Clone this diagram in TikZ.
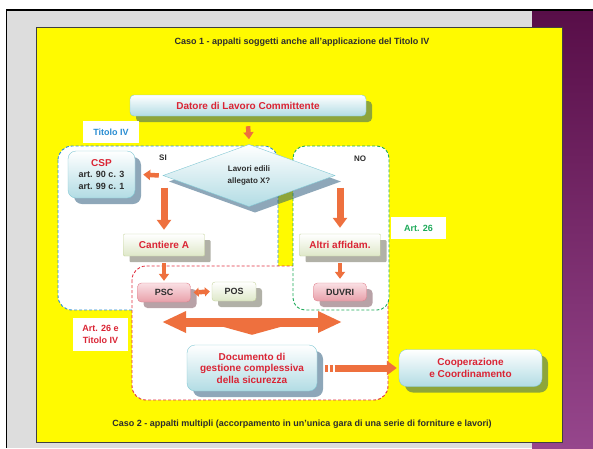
\documentclass[tikz,border=0pt]{standalone}
\usepackage{fontspec}
\setmainfont{Liberation Sans}
\usepackage{xcolor}
\usepackage{tikz}
\usetikzlibrary{shapes.geometric}
\usetikzlibrary{shadows}
\usetikzlibrary{arrows.meta}
\definecolor{boxred}{RGB}{218,36,52}
\definecolor{boxtext}{RGB}{45,45,45}
\definecolor{titleblue}{RGB}{40,140,210}
\definecolor{artgreen}{RGB}{30,170,90}
\definecolor{arrowc}{RGB}{238,112,62}
\definecolor{cyanlo}{RGB}{178,220,228}
\definecolor{cyanrule}{RGB}{130,200,212}
\definecolor{greenlo}{RGB}{222,232,200}
\definecolor{greenrule}{RGB}{198,212,158}
\definecolor{pinktop}{RGB}{250,224,228}
\definecolor{pinklo}{RGB}{232,160,170}
\definecolor{pinkrule}{RGB}{224,130,142}
\definecolor{shadeblue}{RGB}{31,81,116}
\definecolor{shadegrey}{RGB}{100,100,80}
\definecolor{shadepink}{RGB}{115,70,80}
\definecolor{slidegrey}{RGB}{221,221,221}
\definecolor{plumtop}{RGB}{88,14,72}
\definecolor{plumlo}{RGB}{150,70,140}
\definecolor{panel}{RGB}{255,250,0}
\definecolor{dashblue}{RGB}{40,140,210}
\definecolor{dashgreen}{RGB}{30,170,90}
\definecolor{dashred}{RGB}{224,48,64}
\tikzset{
cyanbox/.style={
  rectangle, rounded corners=4pt,
  draw=cyanrule, top color=white, bottom color=cyanlo,
  text=boxred, align=center, inner sep=0pt,
  font=\bfseries\fontsize{10}{11.5}\selectfont,
  drop shadow={shadow xshift=6pt,shadow yshift=-6pt,fill=shadeblue,opacity=.5}
},
greenbox/.style={
  rectangle, rounded corners=1pt,
  draw=greenrule, top color=white, bottom color=greenlo,
  text=boxred, align=center, inner sep=0pt,
  font=\bfseries\fontsize{10}{11.5}\selectfont,
  drop shadow={shadow xshift=6pt,shadow yshift=-6pt,fill=shadegrey,opacity=.5}
},
pinkbox/.style={
  rectangle, rounded corners=4pt,
  draw=pinkrule, top color=pinktop, bottom color=pinklo,
  text=boxtext, align=center, inner sep=0pt,
  font=\bfseries\fontsize{9}{11}\selectfont,
  drop shadow={shadow xshift=6pt,shadow yshift=-6pt,fill=shadepink,opacity=.5}
},
choice/.style={
  diamond, draw=cyanrule, top color=white, bottom color=cyanlo,
  text=boxtext, align=center, inner sep=0pt,
  font=\bfseries\fontsize{8}{12}\selectfont,
  drop shadow={shadow xshift=6pt,shadow yshift=-6pt,fill=shadeblue,opacity=.5}
},
tagbox/.style={
  rectangle, fill=white, inner sep=0pt, align=center,
  font=\bfseries\fontsize{9}{11.5}\selectfont
},
plaintext/.style={text=boxtext, inner sep=0pt, font=\bfseries\fontsize{8}{10}\selectfont},
region/.style={line width=0.9pt, dash pattern=on 3pt off 2pt, fill=white, rounded corners=14pt},
smallarrow/.style={draw=arrowc, line width=4.5pt, -{Triangle[width=10pt,length=7pt]}},
blockarrow/.style={draw=arrowc, line width=7pt, -{Triangle[width=14pt,length=10pt]}},
bigarrow/.style={draw=arrowc, line width=9pt, {Triangle[width=20pt,length=24pt]}-{Triangle[width=20pt,length=24pt]}}
}

\begin{document}
\begin{tikzpicture}[x=1pt,y=-1pt]
\useasboundingbox (0,0) rectangle (593,448);
% the slide
\fill[white] (0,0) rectangle (593,448);
\fill[slidegrey] (7,11) rectangle (532,448);
\shade[top color=plumtop, bottom color=plumlo] (532,11) rectangle (593,448);
\draw[line width=2pt] (6,10) -- (593,10);
\draw[line width=1.2pt] (6.6,10) -- (6.6,448);
\draw[fill=panel, draw=black!75, line width=0.8pt] (36,27) rectangle (562,442);

\node[plaintext, font=\bfseries\fontsize{9}{10}\selectfont] (caso1) at (302,42)
  {Caso 1 - appalti soggetti anche all'applicazione del Titolo IV};
\node[plaintext, font=\bfseries\fontsize{9}{10}\selectfont] (caso2) at (302,424)
  {Caso 2 - appalti multipli (accorpamento in un'unica gara di una serie di forniture e lavori)};

% the regions
\draw[region, draw=dashblue] (58,146) rectangle (278,310);
\draw[region, draw=dashred] (132,266) rectangle (388,400);
\draw[region, draw=dashgreen, rounded corners=12pt] (293,146) rectangle (389,310);

% the boxes
\node[cyanbox, minimum width=236pt, minimum height=21pt] (datore) at (248,105.5)
  {Datore di Lavoro Committente};
\node[tagbox, text=titleblue, minimum width=56pt, minimum height=22pt] (tit4) at (111,132) {Titolo IV};
\node[plaintext] (si) at (163,158) {SI};
\node[plaintext] (no) at (360,159) {NO};
\node[choice, minimum width=172pt, minimum height=55pt] (lavori) at (249,175.5)
  {Lavori edili\\allegato X?};
\node[cyanbox, rounded corners=8pt, text=boxtext, minimum width=67pt, minimum height=47pt,
  font=\bfseries\fontsize{9}{11.5}\selectfont] (csp) at (101.5,174.5)
  {{\color{boxred}\fontsize{10}{11.5}\selectfont CSP}\\art. 90 c. 3\\art. 99 c. 1};
\node[greenbox, minimum width=81pt, minimum height=22pt] (cant) at (164,245) {Cantiere A};
\node[greenbox, minimum width=81pt, minimum height=22pt] (altri) at (340,245) {Altri affidam.};
\node[tagbox, text=artgreen, minimum width=55pt, minimum height=22pt] (art26) at (418.5,228) {Art. 26};
\node[pinkbox, minimum width=53pt, minimum height=19pt] (psc) at (164,292.5) {PSC};
\node[greenbox, text=boxtext, rounded corners=3pt, minimum width=44pt, minimum height=19pt,
  font=\bfseries\fontsize{9}{11}\selectfont] (pos) at (234,291.5) {POS};
\node[pinkbox, minimum width=53pt, minimum height=18pt] (duvri) at (340,292) {DUVRI};
\node[tagbox, text=boxred, minimum width=55pt, minimum height=33pt] (art26t4) at (100.5,334.5)
  {Art. 26 e\\Titolo IV};
\node[cyanbox, rounded corners=8pt, minimum width=130pt, minimum height=46pt] (doc) at (252,368)
  {Documento di\\gestione complessiva\\della sicurezza};
\node[cyanbox, rounded corners=8pt, minimum width=143pt, minimum height=37pt] (coop) at (470.5,368)
  {Cooperazione\\e Coordinamento};

% the arrows
\coordinate (bigl) at (162,322);
\coordinate (bigr) at (342,322);
\draw[smallarrow] ([yshift=-10pt]datore.south) -- ([yshift=5pt]lavori.north);
\draw[smallarrow] ([xshift=-4pt]lavori.west) -- ([xshift=8pt]csp.east);
\draw[blockarrow] ([yshift=-12pt]cant.north |- lavori.west) -- ([yshift=4pt]cant.north);
\draw[blockarrow] ([yshift=-12pt]altri.north |- lavori.east) -- ([yshift=6pt]altri.north);
\draw[smallarrow] ([yshift=-7pt]cant.south) -- ([yshift=2pt]psc.north);
\draw[smallarrow] ([yshift=-7pt]altri.south) -- ([yshift=4pt]duvri.north);
\draw[smallarrow, {Triangle[width=9pt,length=5pt]}-{Triangle[width=9pt,length=5pt]}]
  ([xshift=3pt]psc.east) -- ([xshift=-2pt]pos.west);
\draw[bigarrow] (bigl) -- (bigr);
\draw[bigarrow, -{Triangle[width=72pt,length=10pt]}] (doc.north |- bigl) -- ([yshift=10pt]doc.north);
\draw[blockarrow, dash pattern=on 3pt off 1.5pt on 3pt off 2pt on 200pt off 1pt]
  ([xshift=8pt]doc.east) -- ([xshift=-2pt]coop.west);
\end{tikzpicture}
\end{document}
